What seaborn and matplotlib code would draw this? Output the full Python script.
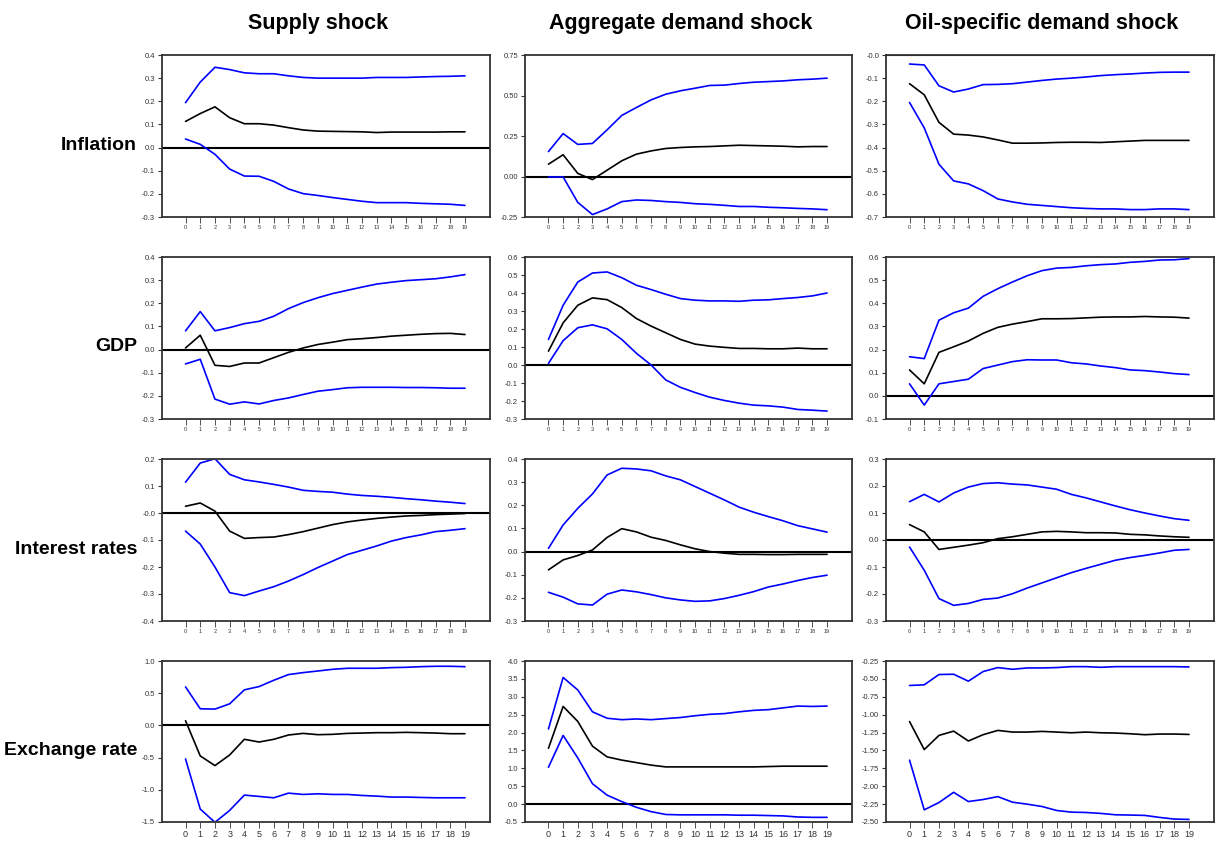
import matplotlib
matplotlib.use("Agg")
import matplotlib.pyplot as plt
import seaborn as sns
import pandas as pd

steps = list(range(20))
shocks = ["Supply shock", "Aggregate demand shock", "Oil-specific demand shock"]
variables = ["Inflation", "GDP", "Interest rates", "Exchange rate"]

# ---- Inflation ----
infl_supply_hi = [0.194, 0.283, 0.347, 0.337, 0.323, 0.319, 0.319, 0.31, 0.303, 0.30,
                  0.30, 0.30, 0.30, 0.303, 0.303, 0.303, 0.305, 0.307, 0.308, 0.31]
infl_supply_mid = [0.113, 0.147, 0.176, 0.129, 0.103, 0.103, 0.097, 0.086, 0.076, 0.071,
                   0.07, 0.069, 0.068, 0.065, 0.067, 0.067, 0.067, 0.067, 0.068, 0.068]
infl_supply_lo = [0.037, 0.014, -0.029, -0.093, -0.123, -0.124, -0.146, -0.179, -0.199, -0.207,
                  -0.216, -0.224, -0.232, -0.238, -0.238, -0.238, -0.241, -0.243, -0.245, -0.25]

infl_ad_hi = [0.154, 0.265, 0.198, 0.204, 0.288, 0.377, 0.426, 0.473, 0.508, 0.529,
              0.545, 0.562, 0.564, 0.574, 0.582, 0.586, 0.59, 0.597, 0.601, 0.607]
infl_ad_mid = [0.076, 0.134, 0.019, -0.019, 0.039, 0.097, 0.138, 0.158, 0.173, 0.179,
               0.183, 0.185, 0.189, 0.193, 0.191, 0.189, 0.187, 0.183, 0.185, 0.185]
infl_ad_lo = [-0.003, -0.003, -0.16, -0.235, -0.2, -0.155, -0.145, -0.148, -0.155, -0.16,
              -0.168, -0.172, -0.178, -0.185, -0.185, -0.19, -0.193, -0.197, -0.2, -0.205]

infl_oil_hi = [-0.039, -0.043, -0.133, -0.16, -0.147, -0.128, -0.127, -0.124, -0.117, -0.11,
               -0.104, -0.1, -0.095, -0.089, -0.085, -0.082, -0.078, -0.075, -0.074, -0.074]
infl_oil_mid = [-0.124, -0.172, -0.291, -0.342, -0.346, -0.354, -0.367, -0.381, -0.381, -0.38,
                -0.378, -0.377, -0.377, -0.378, -0.375, -0.372, -0.369, -0.369, -0.369, -0.369]
infl_oil_lo = [-0.205, -0.315, -0.472, -0.544, -0.557, -0.586, -0.622, -0.635, -0.645, -0.65,
               -0.655, -0.66, -0.663, -0.665, -0.665, -0.668, -0.668, -0.665, -0.665, -0.668]

# ---- GDP ----
gdp_supply_hi = [0.081, 0.164, 0.081, 0.095, 0.112, 0.122, 0.144, 0.177, 0.203, 0.224,
                 0.242, 0.256, 0.27, 0.283, 0.291, 0.298, 0.302, 0.306, 0.314, 0.324]
gdp_supply_mid = [0.007, 0.062, -0.068, -0.073, -0.058, -0.058, -0.035, -0.012, 0.007, 0.022,
                  0.032, 0.043, 0.047, 0.052, 0.058, 0.062, 0.066, 0.069, 0.07, 0.065]
gdp_supply_lo = [-0.062, -0.042, -0.214, -0.236, -0.226, -0.235, -0.22, -0.209, -0.194, -0.18,
                 -0.173, -0.165, -0.163, -0.163, -0.163, -0.164, -0.164, -0.165, -0.167, -0.167]

gdp_ad_hi = [0.142, 0.332, 0.461, 0.511, 0.517, 0.485, 0.443, 0.419, 0.393, 0.369,
             0.36, 0.356, 0.356, 0.354, 0.36, 0.362, 0.369, 0.375, 0.384, 0.4]
gdp_ad_mid = [0.077, 0.234, 0.332, 0.373, 0.363, 0.319, 0.258, 0.216, 0.179, 0.142,
              0.116, 0.105, 0.098, 0.092, 0.092, 0.09, 0.09, 0.094, 0.09, 0.09]
gdp_ad_lo = [0.009, 0.135, 0.207, 0.223, 0.201, 0.142, 0.065, 0.0, -0.083, -0.124,
             -0.153, -0.179, -0.197, -0.212, -0.223, -0.227, -0.234, -0.247, -0.251, -0.256]

gdp_oil_hi = [0.169, 0.161, 0.327, 0.359, 0.379, 0.43, 0.463, 0.492, 0.519, 0.541,
              0.552, 0.555, 0.562, 0.567, 0.57, 0.577, 0.581, 0.587, 0.588, 0.593]
gdp_oil_mid = [0.112, 0.052, 0.188, 0.212, 0.237, 0.27, 0.296, 0.31, 0.321, 0.333,
               0.333, 0.334, 0.337, 0.34, 0.341, 0.341, 0.343, 0.341, 0.34, 0.336]
gdp_oil_lo = [0.052, -0.04, 0.052, 0.062, 0.072, 0.118, 0.133, 0.148, 0.156, 0.155,
              0.155, 0.143, 0.138, 0.129, 0.122, 0.112, 0.109, 0.103, 0.096, 0.092]

# ---- Interest rates ----
rate_supply_hi = [0.114, 0.185, 0.201, 0.143, 0.123, 0.115, 0.106, 0.096, 0.084, 0.08,
                  0.077, 0.07, 0.065, 0.062, 0.058, 0.053, 0.049, 0.044, 0.04, 0.035]
rate_supply_mid = [0.025, 0.037, 0.007, -0.067, -0.094, -0.091, -0.089, -0.08, -0.069, -0.056,
                   -0.043, -0.033, -0.026, -0.02, -0.015, -0.011, -0.009, -0.006, -0.004, -0.002]
rate_supply_lo = [-0.067, -0.115, -0.2, -0.295, -0.306, -0.289, -0.273, -0.252, -0.228, -0.202,
                  -0.178, -0.154, -0.138, -0.122, -0.104, -0.091, -0.081, -0.069, -0.064, -0.058]

rate_ad_hi = [0.014, 0.115, 0.187, 0.249, 0.331, 0.36, 0.357, 0.349, 0.327, 0.31,
              0.281, 0.252, 0.223, 0.192, 0.17, 0.151, 0.133, 0.112, 0.098, 0.084]
rate_ad_mid = [-0.079, -0.036, -0.017, 0.007, 0.061, 0.099, 0.085, 0.062, 0.048, 0.029,
               0.012, 0.0, -0.007, -0.012, -0.012, -0.013, -0.013, -0.012, -0.012, -0.012]
rate_ad_lo = [-0.176, -0.197, -0.226, -0.231, -0.184, -0.166, -0.174, -0.186, -0.2, -0.209,
              -0.215, -0.213, -0.203, -0.189, -0.173, -0.153, -0.14, -0.125, -0.112, -0.102]

rate_oil_hi = [0.142, 0.169, 0.141, 0.174, 0.196, 0.209, 0.212, 0.207, 0.204, 0.196,
               0.188, 0.169, 0.156, 0.141, 0.126, 0.112, 0.1, 0.089, 0.079, 0.073]
rate_oil_mid = [0.057, 0.03, -0.035, -0.027, -0.019, -0.01, 0.005, 0.012, 0.021, 0.03,
                0.032, 0.03, 0.027, 0.027, 0.026, 0.021, 0.019, 0.015, 0.012, 0.01]
rate_oil_lo = [-0.026, -0.112, -0.217, -0.242, -0.235, -0.22, -0.215, -0.199, -0.178, -0.159,
               -0.14, -0.121, -0.105, -0.09, -0.075, -0.065, -0.057, -0.048, -0.038, -0.035]

# ---- Exchange rate ----
fx_supply_hi = [0.598, 0.258, 0.253, 0.335, 0.552, 0.603, 0.701, 0.789, 0.82, 0.845,
                0.871, 0.887, 0.887, 0.887, 0.897, 0.902, 0.912, 0.918, 0.918, 0.912]
fx_supply_mid = [0.072, -0.474, -0.624, -0.459, -0.216, -0.258, -0.216, -0.149, -0.124, -0.144,
                 -0.139, -0.124, -0.119, -0.113, -0.113, -0.108, -0.113, -0.119, -0.129, -0.129]
fx_supply_lo = [-0.521, -1.299, -1.505, -1.32, -1.082, -1.103, -1.124, -1.052, -1.072, -1.062,
                -1.072, -1.072, -1.088, -1.098, -1.113, -1.113, -1.119, -1.124, -1.124, -1.124]

fx_ad_hi = [2.1, 3.54, 3.19, 2.58, 2.4, 2.36, 2.38, 2.36, 2.39, 2.42,
            2.47, 2.51, 2.53, 2.58, 2.62, 2.64, 2.69, 2.74, 2.73, 2.74]
fx_ad_mid = [1.56, 2.73, 2.31, 1.62, 1.32, 1.23, 1.16, 1.09, 1.04, 1.04,
             1.04, 1.04, 1.04, 1.04, 1.04, 1.05, 1.06, 1.06, 1.06, 1.06]
fx_ad_lo = [1.03, 1.92, 1.29, 0.57, 0.25, 0.07, -0.09, -0.21, -0.29, -0.3,
            -0.3, -0.3, -0.3, -0.31, -0.31, -0.32, -0.33, -0.36, -0.37, -0.37]

fx_oil_hi = [-0.592, -0.583, -0.439, -0.435, -0.532, -0.398, -0.342, -0.366, -0.347, -0.347,
             -0.342, -0.329, -0.329, -0.338, -0.329, -0.329, -0.329, -0.329, -0.329, -0.333]
fx_oil_mid = [-1.096, -1.488, -1.29, -1.23, -1.368, -1.28, -1.22, -1.243, -1.243, -1.234,
              -1.243, -1.253, -1.243, -1.253, -1.257, -1.267, -1.28, -1.271, -1.271, -1.276]
fx_oil_lo = [-1.636, -2.33, -2.228, -2.085, -2.214, -2.186, -2.145, -2.223, -2.251, -2.283,
             -2.339, -2.362, -2.367, -2.38, -2.399, -2.403, -2.408, -2.436, -2.459, -2.464]

# y tick labels per panel (row = variable, column = shock)
infl_yticks = [["0.4", "0.3", "0.2", "0.1", "0.0", "-0.1", "-0.2", "-0.3"],
               ["0.75", "0.50", "0.25", "0.00", "-0.25"],
               ["-0.0", "-0.1", "-0.2", "-0.3", "-0.4", "-0.5", "-0.6", "-0.7"]]
gdp_yticks = [["0.4", "0.3", "0.2", "0.1", "0.0", "-0.1", "-0.2", "-0.3"],
              ["0.6", "0.5", "0.4", "0.3", "0.2", "0.1", "0.0", "-0.1", "-0.2", "-0.3"],
              ["0.6", "0.5", "0.4", "0.3", "0.2", "0.1", "0.0", "-0.1"]]
rate_yticks = [["0.2", "0.1", "-0.0", "-0.1", "-0.2", "-0.3", "-0.4"],
               ["0.4", "0.3", "0.2", "0.1", "0.0", "-0.1", "-0.2", "-0.3"],
               ["0.3", "0.2", "0.1", "0.0", "-0.1", "-0.2", "-0.3"]]
fx_yticks = [["1.0", "0.5", "0.0", "-0.5", "-1.0", "-1.5"],
             ["4.0", "3.5", "3.0", "2.5", "2.0", "1.5", "1.0", "0.5", "0.0", "-0.5"],
             ["-0.25", "-0.50", "-0.75", "-1.00", "-1.25", "-1.50", "-1.75", "-2.00", "-2.25", "-2.50"]]

grid = [
    [(infl_supply_lo, infl_supply_mid, infl_supply_hi),
     (infl_ad_lo, infl_ad_mid, infl_ad_hi),
     (infl_oil_lo, infl_oil_mid, infl_oil_hi)],
    [(gdp_supply_lo, gdp_supply_mid, gdp_supply_hi),
     (gdp_ad_lo, gdp_ad_mid, gdp_ad_hi),
     (gdp_oil_lo, gdp_oil_mid, gdp_oil_hi)],
    [(rate_supply_lo, rate_supply_mid, rate_supply_hi),
     (rate_ad_lo, rate_ad_mid, rate_ad_hi),
     (rate_oil_lo, rate_oil_mid, rate_oil_hi)],
    [(fx_supply_lo, fx_supply_mid, fx_supply_hi),
     (fx_ad_lo, fx_ad_mid, fx_ad_hi),
     (fx_oil_lo, fx_oil_mid, fx_oil_hi)],
]
yticks_grid = [infl_yticks, gdp_yticks, rate_yticks, fx_yticks]

sns.set_style("white")
plt.rcParams["font.family"] = ["Liberation Sans", "DejaVu Sans"]

W, H = 1216, 842
fig = plt.figure(figsize=(W / 100, H / 100), dpi=100)

# pixel boxes of the panels
col_px = [(162, 490), (525, 852), (886, 1214)]
row_px = [(55, 217), (257, 419), (459, 621), (661, 822)]
palette = {"lo": "#0000ff", "mid": "#000000", "hi": "#0000ff"}

for r, var in enumerate(variables):
    for c, shock in enumerate(shocks):
        x0, x1 = col_px[c]
        y0, y1 = row_px[r]
        ax = fig.add_axes([x0 / W, 1 - y1 / H, (x1 - x0) / W, (y1 - y0) / H])
        lo, mid, hi = grid[r][c]
        df = pd.DataFrame({
            "step": steps * 3,
            "value": lo + mid + hi,
            "band": ["lo"] * 20 + ["mid"] * 20 + ["hi"] * 20,
        })
        ax.axhline(0, color="black", lw=1.5, zorder=1)
        sns.lineplot(data=df, x="step", y="value", hue="band", estimator=None,
                     palette=palette, linewidth=1.2, legend=False, ax=ax, zorder=2)

        labels = yticks_grid[r][c]
        vals = [float(s) for s in labels]
        ax.set_ylim(min(vals), max(vals))
        ax.set_yticks(vals)
        ax.set_yticklabels(labels)
        ax.set_xlim(-1.6, 20.7)
        ax.set_xticks(steps)
        ax.set_xticklabels([str(s) for s in steps])
        ax.set_xlabel("")
        ax.set_ylabel("")
        xfs = 6.5 if r == 3 else 4
        ax.tick_params(axis="x", direction="out", length=4, width=0.6, pad=2,
                       labelsize=xfs, colors="#333333", bottom=True)
        ax.tick_params(axis="y", direction="out", length=3, width=0.8, pad=2,
                       labelsize=5.5, colors="#333333", left=True)
        for sp in ax.spines.values():
            sp.set_color("#333333")
            sp.set_linewidth(1.3)

        if r == 0:
            fig.text(((x0 + x1) / 2 - 8) / W, 1 - 23 / H, shock, ha="center", va="center",
                     fontsize=15.5, fontweight="bold", color="black")
    fig.text(137 / W, 1 - (row_px[r][0] + row_px[r][1] + 18) / 2 / H, var,
             ha="right", va="center", fontsize=14, fontweight="bold", color="black")

fig.savefig("out.png", dpi=100, facecolor="white")
